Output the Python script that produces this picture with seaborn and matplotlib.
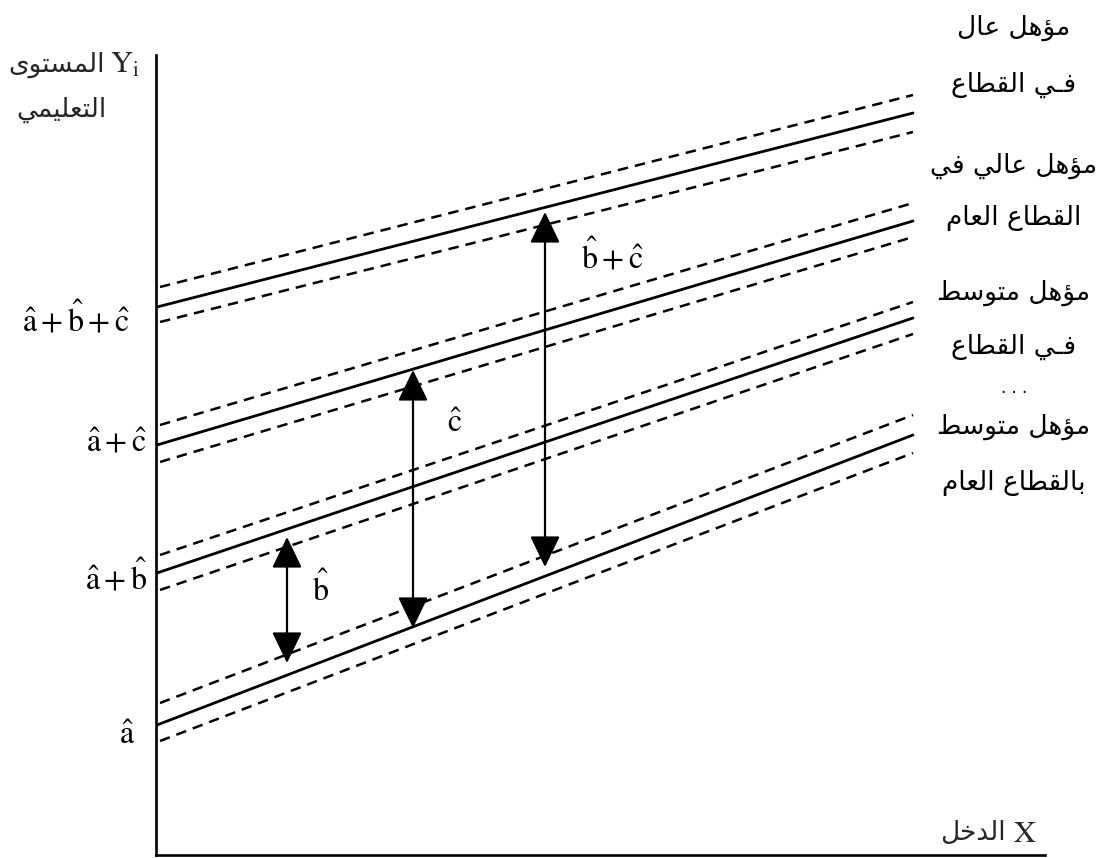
import numpy as np
import pandas as pd
import seaborn as sns
import matplotlib.pyplot as plt

# ---------------------------------------------------------------------------
# Data (income on x, educational level on y, in plot units)
# ---------------------------------------------------------------------------
groups = ["high_private", "high_public", "mid_private", "mid_public"]
solid_x = [1, 757]
dashed_x = [4, 757]
solid_start = [548, 410, 282, 130]
solid_end = [742, 634, 537, 420]
upper_start = [568, 430, 300, 152]
upper_end = [760, 652, 553, 440]
lower_start = [533, 393, 265, 114]
lower_end = [723, 618, 521, 402]

# double-headed arrows measuring the differences between intercepts
arrow_x = [131, 257, 389]
arrow_low = [192, 227, 288]
arrow_high = [318, 485, 643]
arrow_labels = [r"$\hat{\mathrm{b}}$", r"$\hat{\mathrm{c}}$",
                r"$\hat{\mathrm{b}}+\hat{\mathrm{c}}$"]
arrow_label_x = [165, 299, 456]
arrow_label_y = [265, 431, 598]

# intercept labels on the left of the y axis
intercept_labels = [r"$\hat{\mathrm{a}}+\hat{\mathrm{b}}+\hat{\mathrm{c}}$",
                    r"$\hat{\mathrm{a}}+\hat{\mathrm{c}}$",
                    r"$\hat{\mathrm{a}}+\hat{\mathrm{b}}$",
                    r"$\hat{\mathrm{a}}$"]
intercept_label_x = [-26, -9, -9, -21]
intercept_label_y = [535, 412, 277, 119]

# group captions on the right
group_captions = ["مؤهل عال", "فـي القطاع", "مؤهل عالي في", "القطاع العام",
                  "مؤهل متوسط", "فـي القطاع", "مؤهل متوسط", "بالقطاع العام"]
caption_x = 858
caption_y = [827, 770, 689, 637, 562, 508, 428, 372]
dots_y = 467

y_title_lines = ["المستوى", "التعليمي"]
x_title = "الدخل"

# ---------------------------------------------------------------------------
# Minimal Arabic shaping: contextual presentation forms + visual order
# ---------------------------------------------------------------------------
TATWEEL = "\u0640"
FORMS = {
    "\u0627": ("\uFE8D", "\uFE8E", None, None),      # alef
    "\u0624": ("\uFE85", "\uFE86", None, None),      # waw hamza
    "\u0628": ("\uFE8F", "\uFE90", "\uFE91", "\uFE92"),  # beh
    "\u062A": ("\uFE95", "\uFE96", "\uFE97", "\uFE98"),  # teh
    "\u062E": ("\uFEA5", "\uFEA6", "\uFEA7", "\uFEA8"),  # khah
    "\u062F": ("\uFEA9", "\uFEAA", None, None),      # dal
    "\u0633": ("\uFEB1", "\uFEB2", "\uFEB3", "\uFEB4"),  # seen
    "\u0637": ("\uFEC1", "\uFEC2", "\uFEC3", "\uFEC4"),  # tah
    "\u0639": ("\uFEC9", "\uFECA", "\uFECB", "\uFECC"),  # ain
    "\u0641": ("\uFED1", "\uFED2", "\uFED3", "\uFED4"),  # feh
    "\u0642": ("\uFED5", "\uFED6", "\uFED7", "\uFED8"),  # qaf
    "\u0644": ("\uFEDD", "\uFEDE", "\uFEDF", "\uFEE0"),  # lam
    "\u0645": ("\uFEE1", "\uFEE2", "\uFEE3", "\uFEE4"),  # meem
    "\u0647": ("\uFEE9", "\uFEEA", "\uFEEB", "\uFEEC"),  # heh
    "\u0648": ("\uFEED", "\uFEEE", None, None),      # waw
    "\u0649": ("\uFEEF", "\uFEF0", None, None),      # alef maksura
    "\u064A": ("\uFEF1", "\uFEF2", "\uFEF3", "\uFEF4"),  # yeh
}


def joins_forward(ch):
    return ch == TATWEEL or (ch in FORMS and FORMS[ch][2] is not None)


def is_arabic(ch):
    return ch == TATWEEL or ch in FORMS


def shape(text):
    out = []
    for i, ch in enumerate(text):
        if ch not in FORMS:
            out.append(ch)
            continue
        prev = text[i - 1] if i > 0 else ""
        nxt = text[i + 1] if i + 1 < len(text) else ""
        jp = bool(prev) and joins_forward(prev)
        jn = bool(nxt) and is_arabic(nxt) and FORMS[ch][2] is not None
        iso, fin, ini, med = FORMS[ch]
        if jp and jn:
            out.append(med)
        elif jp:
            out.append(fin)
        elif jn:
            out.append(ini)
        else:
            out.append(iso)
    return "".join(reversed(out))


# ---------------------------------------------------------------------------
# Figure
# ---------------------------------------------------------------------------
sns.set_theme(style="white")
plt.rcParams["mathtext.fontset"] = "stix"
plt.rcParams["font.family"] = ["DejaVu Sans"]

AR_SIZE = 19
W, H = 1105, 858
fig = plt.figure(figsize=(W / 100, H / 100), dpi=100)
ax = fig.add_axes([156 / W, 3 / H, (1045 - 156) / W, (855 - 55) / H])
ax.set_xlim(0, 889)
ax.set_ylim(0, 800)

rows = []
for g, s0, s1, u0, u1, l0, l1 in zip(groups, solid_start, solid_end,
                                       upper_start, upper_end,
                                       lower_start, lower_end):
    rows += [dict(x=solid_x[0], y=s0, line=g + "_fit", kind="fit"),
             dict(x=solid_x[1], y=s1, line=g + "_fit", kind="fit"),
             dict(x=dashed_x[0], y=u0, line=g + "_up", kind="band"),
             dict(x=dashed_x[1], y=u1, line=g + "_up", kind="band"),
             dict(x=dashed_x[0], y=l0, line=g + "_lo", kind="band"),
             dict(x=dashed_x[1], y=l1, line=g + "_lo", kind="band")]
df = pd.DataFrame(rows)

sns.lineplot(data=df[df.kind == "fit"], x="x", y="y", units="line",
             estimator=None, color="black", lw=2.0, ax=ax, legend=False)
sns.lineplot(data=df[df.kind == "band"], x="x", y="y", units="line",
             estimator=None, color="black", lw=1.8, ax=ax, legend=False,
             dashes=False, linestyle=(0, (4.2, 2.8)))

for xa, lo, hi in zip(arrow_x, arrow_low, arrow_high):
    ax.annotate("", xy=(xa, hi), xytext=(xa, lo),
                arrowprops=dict(arrowstyle="<|-|>,head_length=0.97,head_width=0.47",
                                mutation_scale=20, color="black", lw=1.6,
                                shrinkA=0, shrinkB=0))

for lab, lx, ly in zip(arrow_labels, arrow_label_x, arrow_label_y):
    ax.text(lx, ly, lab, fontsize=23, ha="center", va="center", color="black")

for lab, lx, ly in zip(intercept_labels, intercept_label_x, intercept_label_y):
    ax.text(lx, ly, lab, fontsize=23, ha="right", va="center",
            color="black", clip_on=False)

for cap, cy in zip(group_captions, caption_y):
    ax.text(caption_x, cy, shape(cap), fontsize=AR_SIZE, ha="center",
            va="center", color="black", clip_on=False)
ax.text(caption_x, dots_y, ". . .", fontsize=12, ha="center", va="center",
        color="black", clip_on=False)

# axis titles
ax.text(-51, 790, shape(y_title_lines[0]), fontsize=AR_SIZE, ha="right",
        va="center", clip_on=False)
ax.text(-46, 790, r"$\mathrm{Y}_{\mathrm{i}}$", fontsize=22, ha="left",
        va="center", clip_on=False)
ax.text(-95, 745, shape(y_title_lines[1]), fontsize=AR_SIZE, ha="center",
        va="center", clip_on=False)
ax.text(850, 22, shape(x_title), fontsize=AR_SIZE, ha="right", va="center",
        clip_on=False)
ax.text(857, 22, r"$\mathrm{X}$", fontsize=22, ha="left", va="center",
        clip_on=False)

for side in ("top", "right"):
    ax.spines[side].set_visible(False)
for side in ("left", "bottom"):
    ax.spines[side].set_color("black")
    ax.spines[side].set_linewidth(1.9)
ax.set_xticks([])
ax.set_yticks([])
ax.set_xlabel("")
ax.set_ylabel("")
ax.patch.set_alpha(0)

fig.savefig("out.png", dpi=100, facecolor="white")
